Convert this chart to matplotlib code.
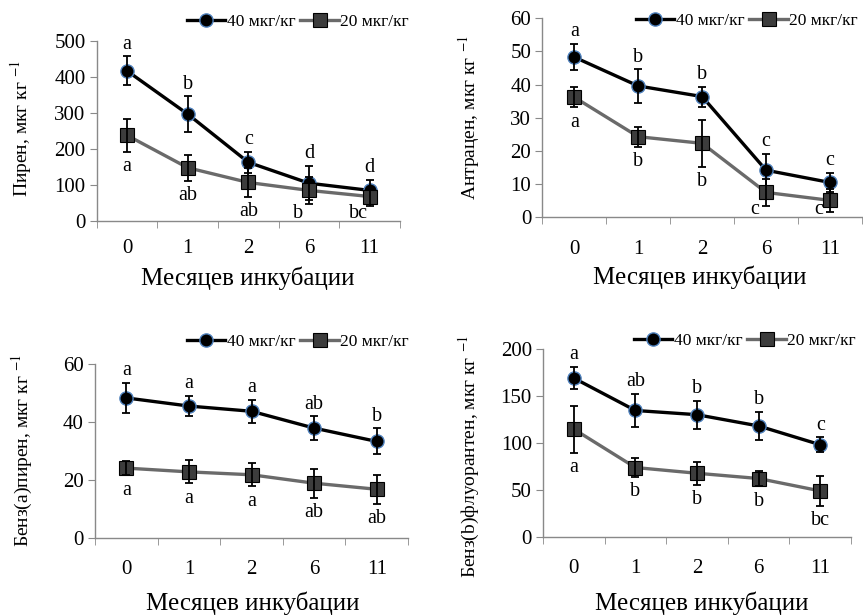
import numpy as np
import matplotlib
matplotlib.use("Agg")
import matplotlib.pyplot as plt
from matplotlib.lines import Line2D

plt.rcParams['font.family'] = ['Liberation Serif', 'DejaVu Serif']
plt.rcParams['mathtext.fontset'] = 'stix'

# данные
months = ['0', '1', '2', '6', '11']

piren_40 = [417, 297, 163, 105, 85]
piren_40_err = [40, 50, 30, 48, 29]
piren_20 = [238, 148, 107, 85, 68]
piren_20_err = [46, 36, 39, 38, 25]
piren_40_let = ['a', 'b', 'c', 'd', 'd']
piren_20_let = ['a', 'ab', 'ab', 'b', 'bc']

antr_40 = [48.3, 39.6, 36.4, 14.2, 10.5]
antr_40_err = [4, 5, 3, 5, 3]
antr_20 = [36.2, 24.3, 22.3, 7.5, 5.1]
antr_20_err = [3, 3, 7, 4, 3.5]
antr_40_let = ['a', 'b', 'b', 'c', 'c']
antr_20_let = ['a', 'b', 'b', 'c', 'c']

bap_40 = [48.3, 45.5, 43.7, 37.9, 33.3]
bap_40_err = [5.3, 3.5, 4, 4, 4.5]
bap_20 = [24.1, 22.8, 21.8, 18.9, 16.8]
bap_20_err = [2.5, 4, 4, 5, 5]
bap_40_let = ['a', 'a', 'a', 'ab', 'b']
bap_20_let = ['a', 'a', 'a', 'ab', 'ab']

bbf_40 = [169, 134.5, 130, 118, 98]
bbf_40_err = [12, 18, 15, 15, 8]
bbf_20 = [114.6, 73.7, 67.6, 62, 48.8]
bbf_20_err = [25, 10, 12, 8, 16]
bbf_40_let = ['a', 'ab', 'b', 'b', 'c']
bbf_20_let = ['a', 'b', 'b', 'b', 'bc']

W, H = 863, 615
fig = plt.figure(figsize=(W / 100, H / 100), dpi=100)

# box = (left, right, top, bottom) в пикселях
panels = [
    dict(box=(96.7, 400, 41, 221), ymax=500, step=100,
         ylab='Пирен, мкг кг $^{-1}$',
         d40=piren_40, e40=piren_40_err, d20=piren_20, e20=piren_20_err,
         l40=piren_40_let, l20=piren_20_let,
         xl=(248, 278), yl=(21, 128), leg=(409, 22), pad=13),
    dict(box=(542.3, 862, 18.3, 217.3), ymax=60, step=10,
         ylab='Антрацен, мкг кг $^{-1}$',
         d40=antr_40, e40=antr_40_err, d20=antr_20, e20=antr_20_err,
         l40=antr_40_let, l20=antr_20_let,
         xl=(700, 277), yl=(469, 118), leg=(858, 21), pad=16),
    dict(box=(95, 408, 364, 538), ymax=60, step=20,
         ylab='Бенз(а)пирен, мкг кг $^{-1}$',
         d40=bap_40, e40=bap_40_err, d20=bap_20, e20=bap_20_err,
         l40=bap_40_let, l20=bap_20_let,
         xl=(253, 603), yl=(22, 450), leg=(409, 342), pad=16),
    dict(box=(543, 851, 349, 536.7), ymax=200, step=50,
         ylab='Бенз(b)флуорантен, мкг кг $^{-1}$',
         d40=bbf_40, e40=bbf_40_err, d20=bbf_20, e20=bbf_20_err,
         l40=bbf_40_let, l20=bbf_20_let,
         xl=(702, 603), yl=(469, 457), leg=(856, 341), pad=16),
]

spine_c = '#898989'
x = np.arange(len(months))

for p in panels:
    l, r, t, b = p['box']
    ax = fig.add_axes([l / W, 1 - b / H, (r - l) / W, (b - t) / H])
    ax.set_xlim(-0.5, len(months) - 0.5)
    ax.set_ylim(0, p['ymax'])
    ax.set_yticks(np.arange(0, p['ymax'] + 1, p['step']))
    ax.set_xticks(x)
    ax.set_xticklabels(months)
    ax.set_xticks(np.arange(-0.5, len(months)), minor=True)
    for s in ['top', 'right']:
        ax.spines[s].set_visible(False)
    for s in ['left', 'bottom']:
        ax.spines[s].set_color(spine_c)
        ax.spines[s].set_linewidth(1.0)
    ax.tick_params(axis='x', which='major', length=0, labelsize=15, pad=p['pad'])
    ax.tick_params(axis='x', which='minor', length=5, color=spine_c, direction='out')
    ax.tick_params(axis='y', length=5, color=spine_c, labelsize=15, pad=3)

    ax.plot(x, p['d40'], color='black', lw=2.4, marker='o', ms=9.5,
            mfc='black', mec='#4f81bd', mew=1.0, zorder=3)
    ax.errorbar(x, p['d40'], yerr=p['e40'], fmt='none', ecolor='black',
                elinewidth=1.3, capsize=3, capthick=1.3, zorder=4)
    ax.plot(x, p['d20'], color='#6a6a6a', lw=2.4, marker='s', ms=10,
            mfc='#3c3c3c', mec='black', mew=0.8, zorder=5)
    ax.errorbar(x, p['d20'], yerr=p['e20'], fmt='none', ecolor='black',
                elinewidth=1.3, capsize=3, capthick=1.3, zorder=6)

    # буквы значимости
    fig.canvas.draw()
    inv = ax.transData.inverted()
    bottom_px = ax.transData.transform((0, 0))[1]
    for i in range(len(months)):
        top = p['d40'][i] + p['e40'][i]
        px, py = ax.transData.transform((x[i], top))
        ax.text(*inv.transform((px, py + 12)), p['l40'][i], ha='center', va='center',
                fontsize=14.5, zorder=7)
        low = p['d20'][i] - p['e20'][i]
        px, py = ax.transData.transform((x[i], low))
        cy = py - 15
        dx = 0
        if cy < bottom_px + 8:
            cy = bottom_px + 8
            dx = -11
        ax.text(*inv.transform((px + dx, cy)), p['l20'][i], ha='center', va='center',
                fontsize=14.5, zorder=7, clip_on=False)

    fig.text(p['xl'][0] / W, 1 - p['xl'][1] / H, 'Месяцев инкубации',
             ha='center', va='center', fontsize=18)
    fig.text(p['yl'][0] / W, 1 - p['yl'][1] / H, p['ylab'], rotation=90,
             ha='center', va='center', fontsize=14)

    handles = [
        Line2D([], [], color='black', lw=2.4, marker='o', ms=9.5, mfc='black',
               mec='#4f81bd', mew=1.0),
        Line2D([], [], color='#6a6a6a', lw=2.4, marker='s', ms=10, mfc='#3c3c3c',
               mec='black', mew=0.8),
    ]
    fig.legend(handles, ['40 мкг/кг', '20 мкг/кг'], ncol=2, frameon=False,
               loc='center right', bbox_to_anchor=(p['leg'][0] / W, 1 - p['leg'][1] / H),
               fontsize=12.5, handlelength=2.2, handletextpad=0.1, columnspacing=0.3,
               borderaxespad=0, borderpad=0)

fig.savefig('out.png', dpi=100)
